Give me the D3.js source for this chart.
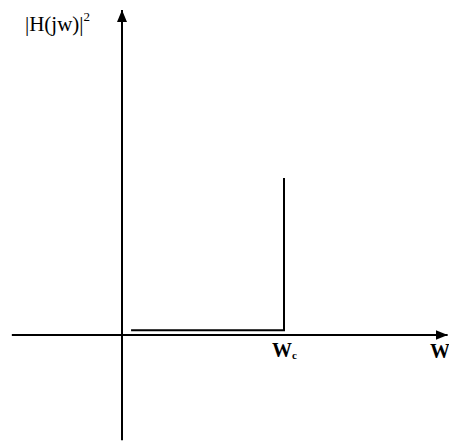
<!DOCTYPE html>
<html>
<head>
<meta charset="utf-8">
<script src="https://cdn.jsdelivr.net/npm/d3@7"></script>
<style>
  html, body { margin: 0; padding: 0; background: #fff; }
  svg { display: block; }
  text { font-family: "Liberation Serif", "Times New Roman", serif; fill: #000; }
</style>
</head>
<body>
<svg id="chart" width="449" height="441"></svg>
<script>
// Frequency axis range (normalised so that the cutoff Wc = 1)
const freqExtent = [-0.68, 2.01];
// Magnitude axis range
const magExtent = [-0.67, 2.07];
// Response |H(jw)|^2: stays near zero below cutoff, then rises at Wc
const responseFreq = [0.056, 1, 1];
const responseMag = [0.03, 0.03, 1];
// Axis labels
const cutoffFreq = 1;
const yLabel = "|H(jw)|";
const xLabel = "W";
const cutoffLabel = "W";
const cutoffSub = "c";

const svg = d3.select("#chart");

const x = d3.scaleLinear().domain([0, 1]).range([122, 284]);
const y = d3.scaleLinear().domain([0, 1]).range([335, 178]);

// Arrow markers
const defs = svg.append("defs");
defs.append("marker")
  .attr("id", "arrow")
  .attr("viewBox", "0 0 12 10")
  .attr("refX", 12).attr("refY", 5)
  .attr("markerWidth", 12).attr("markerHeight", 10)
  .attr("markerUnits", "userSpaceOnUse")
  .attr("orient", "auto")
  .append("path")
  .attr("d", "M0,0 L12,5 L0,10 Z")
  .attr("fill", "#000");

// Horizontal (frequency) axis
svg.append("line")
  .attr("x1", x(freqExtent[0])).attr("x2", x(freqExtent[1]))
  .attr("y1", y(0)).attr("y2", y(0))
  .attr("stroke", "#000").attr("stroke-width", 2)
  .attr("marker-end", "url(#arrow)");

// Vertical (magnitude) axis
svg.append("line")
  .attr("x1", x(0)).attr("x2", x(0))
  .attr("y1", y(magExtent[0])).attr("y2", y(magExtent[1]))
  .attr("stroke", "#000").attr("stroke-width", 2)
  .attr("marker-end", "url(#arrow)");

// Response curve
const pts = responseFreq.map((f, i) => [f, responseMag[i]]);
svg.append("path")
  .datum(pts)
  .attr("d", d3.line().x(d => x(d[0])).y(d => y(d[1])))
  .attr("fill", "none")
  .attr("stroke", "#000")
  .attr("stroke-width", 2);

// Y-axis label |H(jw)|^2
const yl = svg.append("text")
  .attr("x", 25).attr("y", 31)
  .attr("font-size", 21);
yl.append("tspan").text(yLabel);
yl.append("tspan").attr("font-size", 13).attr("dy", -10).text("2");

// Cutoff label Wc
const cl = svg.append("text")
  .attr("x", x(cutoffFreq) - 12).attr("y", 357)
  .attr("font-size", 20).attr("font-weight", "bold");
cl.append("tspan").text(cutoffLabel);
cl.append("tspan").attr("font-size", 11).attr("dy", 2).text(cutoffSub);

// Frequency axis label W
svg.append("text")
  .attr("x", 430).attr("y", 358)
  .attr("font-size", 20).attr("font-weight", "bold")
  .text(xLabel);
</script>
</body>
</html>
